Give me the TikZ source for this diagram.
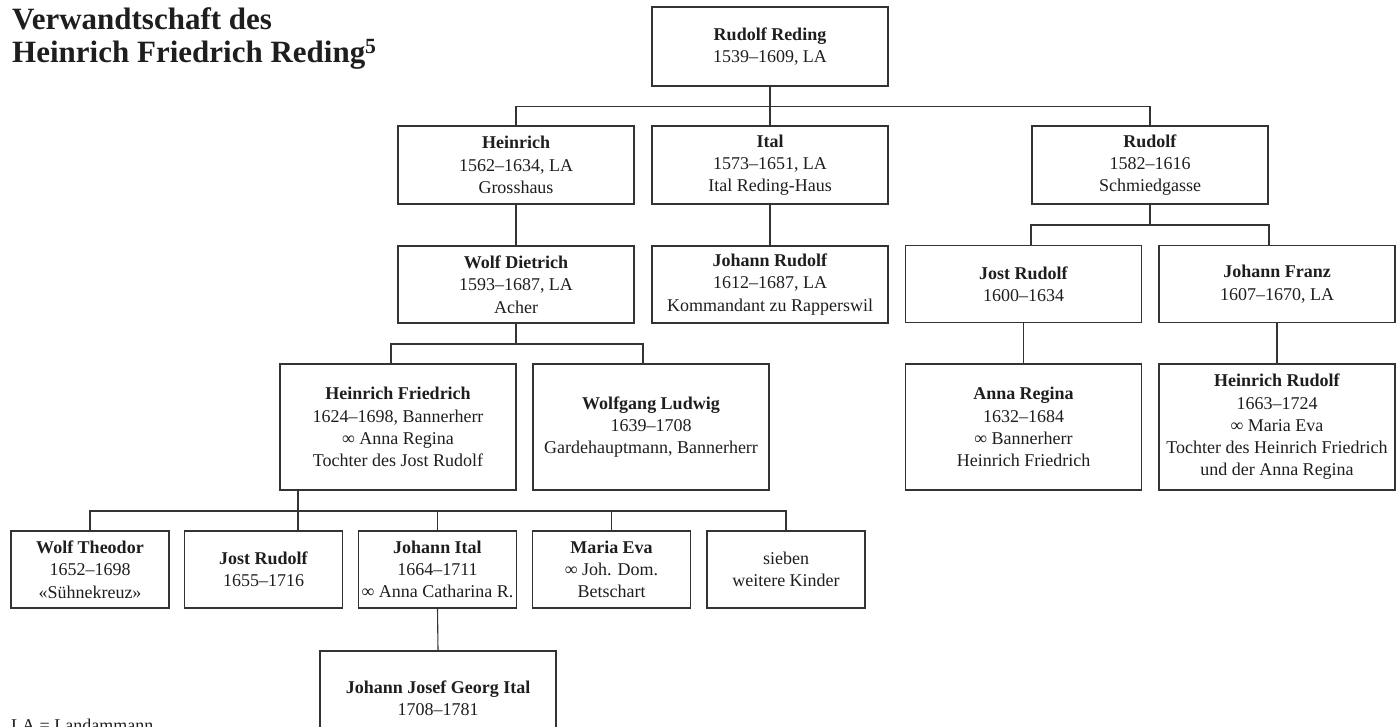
\documentclass[tikz,border=0pt]{standalone}
\usepackage{fontspec}
\setmainfont{Liberation Serif}
\definecolor{linec}{HTML}{333333}
\definecolor{textc}{HTML}{1E1E1E}
\begin{document}
\begin{tikzpicture}[x=1pt,y=-1pt,
  box/.style={draw=linec, line width=1.1pt, inner sep=0pt, align=center,
    font=\fontsize{18}{22.3}\selectfont, text=textc, minimum width=236pt},
  small/.style={box, minimum width=158pt, minimum height=77pt},
  conn/.style={draw=linec, line width=1.1pt},
  titlef/.style={anchor=base west, inner sep=0pt, text=textc,
    font=\fontsize{31}{34}\selectfont\bfseries}]
\useasboundingbox (0,0) rectangle (1399,727);
% title
\node[titlef] (title1) at (12,30) {Verwandtschaft des};
\node[titlef] (title2) at (12,63) {Heinrich Friedrich Reding\textsuperscript{5}};
% generation 1
\node[box, minimum height=79pt] (top) at (770,46.5) {\textbf{Rudolf Reding}\\1539–1609, LA};
% generation 2
\node[box, minimum height=78pt] (heinrich) at (516,165) {\textbf{Heinrich}\\1562–1634, LA\\Grosshaus};
\node[box, minimum height=78pt] (ital) at (770,165) {\textbf{Ital}\\1573–1651, LA\\Ital Reding-Haus};
\node[box, minimum height=78pt] (rudolf) at (1150,165) {\textbf{Rudolf}\\1582–1616\\Schmiedgasse};
% generation 3
\node[box, minimum height=77pt] (wolfd) at (516,284.5) {\textbf{Wolf Dietrich}\\1593–1687, LA\\Acher};
\node[box, minimum height=77pt] (johannr) at (770,284.5) {\textbf{Johann Rudolf}\\1612–1687, LA\\Kommandant zu Rapperswil};
\node[box, minimum height=77pt] (jostr) at (1023.5,284) {\textbf{Jost Rudolf}\\1600–1634};
\node[box, minimum height=77pt] (johannf) at (1277,284) {\textbf{Johann Franz}\\1607–1670, LA};
% generation 4
\node[box, minimum height=126pt] (hf) at (398,427) {\textbf{Heinrich Friedrich}\\1624–1698, Bannerherr\\∞ Anna Regina\\Tochter des Jost Rudolf};
\node[box, minimum height=126pt] (wolfgang) at (651,427) {\textbf{Wolfgang Ludwig}\\1639–1708\\Gardehauptmann, Bannerherr};
\node[box, minimum height=126pt] (annar) at (1023.5,427) {\textbf{Anna Regina}\\1632–1684\\∞ Bannerherr\\Heinrich Friedrich};
\node[box, minimum height=126pt] (heinrichr) at (1277,427) {\textbf{Heinrich Rudolf}\\1663–1724\\∞ Maria Eva\\Tochter des Heinrich Friedrich\\und der Anna Regina};
% generation 5
\node[small] (wolft) at (90,569.5) {\textbf{Wolf Theodor}\\1652–1698\\«Sühnekreuz»};
\node[small] (jostr2) at (263.5,569.5) {\textbf{Jost Rudolf}\\1655–1716};
\node[small] (johanni) at (437.5,569.5) {\textbf{Johann Ital}\\1664–1711\\∞ Anna Catharina R.};
\node[small] (mariae) at (611.5,569.5) {\textbf{Maria Eva}\\∞ Joh. Dom.\\Betschart};
\node[small] (sieben) at (786,569.5) {sieben\\weitere Kinder};
% generation 6
\node[box, minimum height=95pt] (jjgi) at (438,698.5) {\textbf{Johann Josef Georg Ital}\\1708–1781};
% legend
\node[anchor=base west, inner sep=0pt, text=textc, font=\fontsize{18}{22.3}\selectfont] (legend) at (11,731) {LA = Landammann};
% helper coordinates for bars
\coordinate (b3l) at (1031,225);
\coordinate (b3r) at (1269,225);
\coordinate (b4l) at (391,344);
\coordinate (b4r) at (643,344);
\coordinate (hfx) at (298,0);
\coordinate (b5) at (0,511);
% connectors
\draw[conn] (top.south) -- (ital.north);
\draw[conn] (heinrich.north) -- ++(0,-19) -| (rudolf.north);
\draw[conn] (heinrich.south) -- (wolfd.north);
\draw[conn] (ital.south) -- (johannr.north);
\draw[conn] (rudolf.south) -- (rudolf.south |- b3l);
\draw[conn] (b3l |- jostr.north) |- (b3r) -- (b3r |- johannf.north);
\draw[conn] (jostr.south) -- (annar.north);
\draw[conn] (johannf.south) -- (heinrichr.north);
\draw[conn] (wolfd.south) -- (wolfd.south |- b4l);
\draw[conn] (b4l |- hf.north) |- (b4r) -- (b4r |- wolfgang.north);
\draw[conn] (hf.south -| hfx) -- (jostr2.north -| hfx);
\draw[conn] (wolft.north) |- (sieben.north |- b5) -- (sieben.north);
\draw[conn] (johanni.north) -- (johanni.north |- b5);
\draw[conn] (mariae.north) -- (mariae.north |- b5);
\draw[conn] (johanni.south) -- (jjgi.north);
\end{tikzpicture}
\end{document}
